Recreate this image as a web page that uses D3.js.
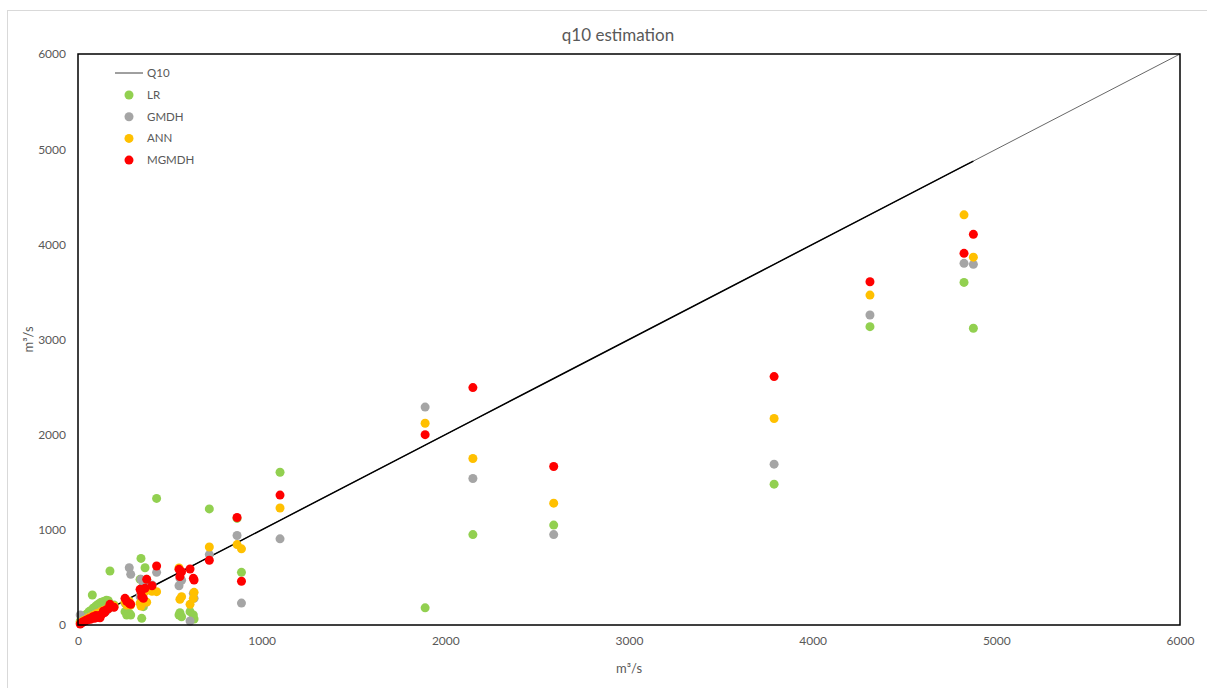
<!DOCTYPE html>
<html lang="en">
  <head>
    <meta charset="UTF-8" />
    <title>q10 estimation</title>
    <style type="text/css">
      html,
      body {
        margin: 0;
        padding: 0;
        background: #fff;
        font-family: "Lato", "Liberation Sans", sans-serif;
      }

      svg text {
        fill: #595959;
      }
    </style>
  </head>
  <body>
    <svg id="chart"></svg>

    <script src="https://cdnjs.cloudflare.com/ajax/libs/d3/7.8.5/d3.min.js"></script>
    <script>
      // === Data === //

      // observed q10 (m3/s), one entry per station
      var observed = [
        12, 18, 25, 30, 38, 45, 52, 60, 68, 78, 82, 90, 98, 105, 112, 120, 128,
        138, 145, 155, 165, 174, 196, 256, 265, 279, 287, 338, 343, 347, 356,
        365, 374, 403, 428, 550, 555, 564, 610, 628, 632, 715, 866, 890, 1100,
        1890, 2150, 2590, 3790, 4312, 4824, 4875
      ];

      var lr = [
        40, 55, 70, 80, 95, 110, 120, 140, 150, 315, 175, 185, 200, 210, 220,
        230, 240, 245, 250, 260, 255, 567, 210, 140, 105, 123, 105, 480, 700,
        70, 193, 602, 480, 370, 1330, 105, 130, 87, 140, 105, 63, 1220, 1120,
        553, 1605, 180, 950, 1050, 1480, 3135, 3600, 3118
      ];

      var gmdh = [
        105, 45, 50, 40, 60, 70, 80, 75, 90, 100, 95, 110, 120, 115, 130, 140,
        135, 150, 160, 150, 170, 200, 190, 230, 250, 602, 532, 300, 480, 210,
        420, 230, 420, 420, 553, 413, 490, 470, 42, 333, 280, 740, 940, 230,
        905, 2290, 1540, 950, 1690, 3258, 3800, 3790
      ];

      var ann = [
        20, 25, 35, 45, 50, 55, 70, 75, 85, 90, 100, 105, 115, 120, 125, 130,
        145, 150, 155, 165, 175, 210, 200, 240, 210, 250, 210, 230, 200, 330,
        368, 350, 240, 355, 350, 599, 270, 298, 217, 280, 343, 820, 845, 800,
        1230, 2120, 1750, 1280, 2170, 3467, 4310, 3865
      ];

      var mgmdh = [
        10, 20, 28, 35, 42, 50, 55, 65, 60, 80, 88, 70, 100, 80, 95, 75,
        110, 145, 130, 160, 170, 217, 186, 280, 250, 228, 217, 375, 350, 298,
        280, 385, 480, 413, 620, 585, 510, 560, 588, 490, 473, 680, 1130, 460,
        1365, 2000, 2495, 1665, 2610, 3607, 3905, 4105
      ];

      var seriesNames = ["LR", "GMDH", "ANN", "MGMDH"];
      var seriesColors = ["#92d050", "#a5a5a5", "#ffc000", "#ff0000"];
      var seriesValues = [lr, gmdh, ann, mgmdh];

      var axisTicks = [0, 1000, 2000, 3000, 4000, 5000, 6000];

      // === Layout === //

      var width = 1207,
        height = 688;

      var plot = { left: 78, top: 54, right: 1180, bottom: 625 };

      var svg = d3
        .select("#chart")
        .attr("width", width)
        .attr("height", height);

      // chart area border
      svg
        .append("rect")
        .attr("x", 7.5)
        .attr("y", 10.5)
        .attr("width", width + 10)
        .attr("height", height + 10)
        .attr("fill", "#fff")
        .attr("stroke", "#d9d9d9");

      var x = d3.scaleLinear().domain([0, 6000]).range([plot.left, plot.right]);
      var y = d3.scaleLinear().domain([0, 6000]).range([plot.bottom, plot.top]);

      // === Axes (labels only) === //

      var fmt = d3.format("d");

      var xAxis = d3
        .axisBottom(x)
        .tickValues(axisTicks)
        .tickFormat(fmt)
        .tickSize(0)
        .tickPadding(11);
      var yAxis = d3
        .axisLeft(y)
        .tickValues(axisTicks)
        .tickFormat(fmt)
        .tickSize(0)
        .tickPadding(12);

      svg
        .append("g")
        .attr("transform", "translate(0," + plot.bottom + ")")
        .call(xAxis)
        .call(function(g) {
          g.select(".domain").remove();
        })
        .selectAll("text")
        .style("font-size", "12px")
        .style("font-family", "Lato")
        .attr("fill", "#595959");

      svg
        .append("g")
        .attr("transform", "translate(" + plot.left + ",0)")
        .call(yAxis)
        .call(function(g) {
          g.select(".domain").remove();
        })
        .selectAll("text")
        .style("font-size", "12px")
        .style("font-family", "Lato")
        .attr("fill", "#595959");

      // === Q10 lines === //

      // thin 1:1 reference across the whole range
      svg
        .append("line")
        .attr("x1", x(0))
        .attr("y1", y(0))
        .attr("x2", x(6000))
        .attr("y2", y(6000))
        .attr("stroke", "#404040")
        .attr("stroke-width", 0.8);

      var q10Line = d3
        .line()
        .x(function(d) {
          return x(d);
        })
        .y(function(d) {
          return y(d);
        });

      svg
        .append("path")
        .datum([0].concat(observed))
        .attr("d", q10Line)
        .attr("fill", "none")
        .attr("stroke", "#000")
        .attr("stroke-width", 1.5);

      // === Points === //

      seriesValues.forEach(function(values, s) {
        svg
          .append("g")
          .selectAll("circle")
          .data(values)
          .join("circle")
          .attr("cx", function(d, i) {
            return x(observed[i]);
          })
          .attr("cy", function(d) {
            return y(d);
          })
          .attr("r", 4.5)
          .attr("fill", seriesColors[s]);
      });

      // plot frame
      svg
        .append("rect")
        .attr("x", plot.left)
        .attr("y", plot.top)
        .attr("width", plot.right - plot.left)
        .attr("height", plot.bottom - plot.top)
        .attr("fill", "none")
        .attr("stroke", "#000")
        .attr("stroke-width", 1.5);

      // === Titles === //

      svg
        .append("text")
        .attr("x", 618)
        .attr("y", 41)
        .attr("text-anchor", "middle")
        .style("font-size", "17px")
        .text("q10 estimation");

      svg
        .append("text")
        .attr("x", (plot.left + plot.right) / 2)
        .attr("y", 673)
        .attr("text-anchor", "middle")
        .style("font-size", "13px")
        .text("m³/s");

      svg
        .append("text")
        .attr("transform", "translate(33," + (plot.top + plot.bottom) / 2 + ") rotate(-90)")
        .attr("text-anchor", "middle")
        .style("font-size", "13px")
        .text("m³/s");

      // === Legend === //

      var legend = svg.append("g").attr("transform", "translate(115,73)");

      legend
        .append("line")
        .attr("x1", 0)
        .attr("x2", 28)
        .attr("y1", 0)
        .attr("y2", 0)
        .attr("stroke", "#404040")
        .attr("stroke-width", 1);

      legend
        .append("text")
        .attr("x", 32)
        .attr("y", 4)
        .style("font-size", "11.5px")
        .text("Q10");

      var items = legend
        .selectAll("g.item")
        .data(seriesNames)
        .join("g")
        .attr("class", "item")
        .attr("transform", function(d, i) {
          return "translate(0," + (22 + i * 21.7) + ")";
        });

      items
        .append("circle")
        .attr("cx", 14)
        .attr("cy", 0)
        .attr("r", 4.5)
        .attr("fill", function(d, i) {
          return seriesColors[i];
        });

      items
        .append("text")
        .attr("x", 32)
        .attr("y", 4)
        .style("font-size", "11.5px")
        .text(function(d) {
          return d;
        });
    </script>
  </body>
</html>
